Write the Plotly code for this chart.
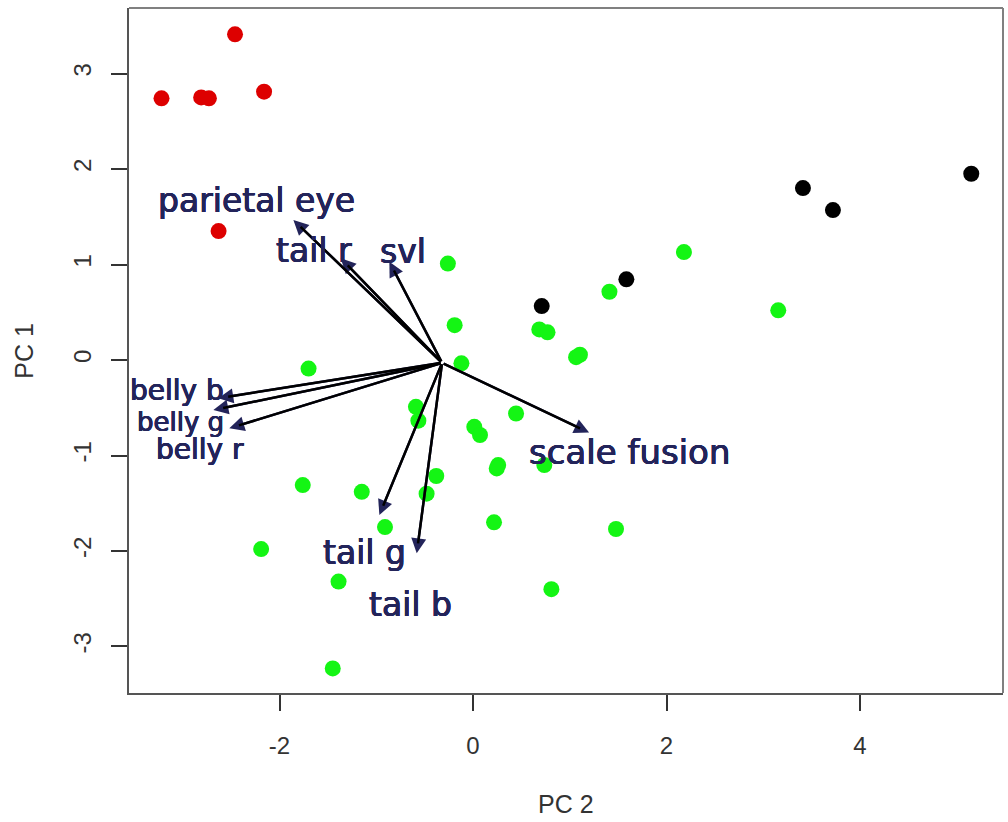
import plotly.graph_objects as go

# ---- data ----
red_x = [-2.46, -3.22, -2.81, -2.73, -2.16, -2.63]
red_y = [3.41, 2.74, 2.75, 2.74, 2.81, 1.35]

black_x = [0.71, 1.585, 3.41, 3.72, 5.15]
black_y = [0.565, 0.845, 1.80, 1.57, 1.95]

green_x = [-0.26, -0.19, -0.12, -1.70, 0.685, 0.77, 1.065, 1.105, 1.41, 2.18,
           3.155, -0.59, -0.565, 0.445, 0.013, 0.072, 0.26, 0.245, 0.737, -0.38,
           -0.48, -0.91, 0.217, 1.478, 0.81, -1.76, -1.15, -2.19, -1.39, -1.45]
green_y = [1.01, 0.365, -0.035, -0.09, 0.32, 0.29, 0.03, 0.055, 0.715, 1.13,
           0.52, -0.49, -0.635, -0.56, -0.70, -0.785, -1.10, -1.135, -1.10, -1.215,
           -1.40, -1.75, -1.70, -1.77, -2.40, -1.31, -1.38, -1.98, -2.32, -3.23]

arrow_origin = (-0.32, -0.03)
arrow_names = ["parietal eye", "tail r", "svl", "belly b", "belly g", "belly r",
               "tail g", "tail b", "scale fusion"]
arrow_tip_x = [-1.857, -1.367, -0.865, -2.633, -2.684, -2.519, -0.968, -0.582, 1.20]
arrow_tip_y = [1.466, 1.065, 1.03, -0.40, -0.524, -0.715, -1.623, -2.024, -0.76]
label_x = [-2.236, -1.64, -0.72, -3.063, -3.023, -2.825, -1.125, -0.643, 1.618]
label_y = [1.675, 1.15, 1.14, -0.32, -0.644, -0.942, -2.02, -2.565, -0.963]
label_size = [33, 33, 33, 28, 26, 28, 33, 33, 34]

x_ticks = [-2, 0, 2, 4]
x_ticklabels = ["-2", "0", "2", "4"]
y_ticks = [-3, -2, -1, 0, 1, 2, 3]
y_ticklabels = ["-3", "-2", "-1", "0", "1", "2", "3"]

NAVY = "#23245a"
SHADOW = ("0.45px 0 0 #23245a, -0.45px 0 0 #23245a, "
          "0 0.45px 0 #23245a, 0 -0.45px 0 #23245a")
TICKFONT = dict(family="Liberation Sans, Arial, sans-serif", size=24, color="#333333")

fig = go.Figure()
fig.add_trace(go.Scatter(x=red_x, y=red_y, mode="markers", name="red",
                         marker=dict(color="#dd0000", size=16), showlegend=False))
fig.add_trace(go.Scatter(x=black_x, y=black_y, mode="markers", name="black",
                         marker=dict(color="#000000", size=16), showlegend=False))
fig.add_trace(go.Scatter(x=green_x, y=green_y, mode="markers", name="green",
                         marker=dict(color="#14f514", size=16), showlegend=False))

annotations = []
# navy arrow heads (with shaft)
for tx, ty in zip(arrow_tip_x, arrow_tip_y):
    annotations.append(dict(x=tx, y=ty, ax=arrow_origin[0], ay=arrow_origin[1],
                            xref="x", yref="y", axref="x", ayref="y", text="",
                            showarrow=True, arrowhead=2, arrowsize=1.2,
                            arrowwidth=2.5, arrowcolor=NAVY))
# black shafts over the navy ones
for tx, ty in zip(arrow_tip_x, arrow_tip_y):
    annotations.append(dict(x=tx, y=ty, ax=arrow_origin[0], ay=arrow_origin[1],
                            xref="x", yref="y", axref="x", ayref="y", text="",
                            showarrow=True, arrowhead=0, standoff=10,
                            arrowwidth=2.5, arrowcolor="#000000"))
# labels
for name, lx, ly, fs in zip(arrow_names, label_x, label_y, label_size):
    annotations.append(dict(x=lx, y=ly, xref="x", yref="y", text=name,
                            showarrow=False, xanchor="center", yanchor="middle",
                            font=dict(family="DejaVu Sans", size=fs, color=NAVY,
                                      shadow=SHADOW)))
# axis titles
annotations.append(dict(x=0.5, y=-0.162, xref="paper", yref="paper", text="PC 2",
                        showarrow=False, xanchor="center", yanchor="middle",
                        font=dict(family="Liberation Sans, Arial, sans-serif", size=25, color="#333333")))
annotations.append(dict(x=-0.121, y=0.5, xref="paper", yref="paper", text="PC 1",
                        showarrow=False, xanchor="center", yanchor="middle", textangle=-90,
                        font=dict(family="Liberation Sans, Arial, sans-serif", size=25, color="#333333")))

shapes = [
    dict(type="line", xref="paper", yref="paper", x0=0, x1=1, y0=1, y1=1,
         line=dict(color="#808080", width=2)),
    dict(type="line", xref="paper", yref="paper", x0=1, x1=1, y0=0, y1=1,
         line=dict(color="#808080", width=2)),
]

fig.update_layout(
    width=1008, height=822,
    margin=dict(l=129, r=5, t=8, b=129),
    paper_bgcolor="white", plot_bgcolor="white",
    annotations=annotations, shapes=shapes,
    showlegend=False,
)
fig.update_xaxes(range=[-3.556, 5.478], tickvals=x_ticks, ticktext=x_ticklabels,
                 ticks="outside", ticklen=16,
                 tickwidth=1.5, tickcolor="#333333", showgrid=False, zeroline=False,
                 showline=True, linecolor="#555555", linewidth=2,
                 tickfont=TICKFONT, ticklabelstandoff=14)
fig.update_yaxes(range=[-3.487, 3.686], tickvals=y_ticks, ticktext=y_ticklabels,
                 ticks="outside", ticklen=16,
                 tickwidth=1.5, tickcolor="#333333", showgrid=False, zeroline=False,
                 showline=True, linecolor="#555555", linewidth=2, tickangle=-90,
                 tickfont=TICKFONT, ticklabelstandoff=10)

fig.write_html("out.html")
